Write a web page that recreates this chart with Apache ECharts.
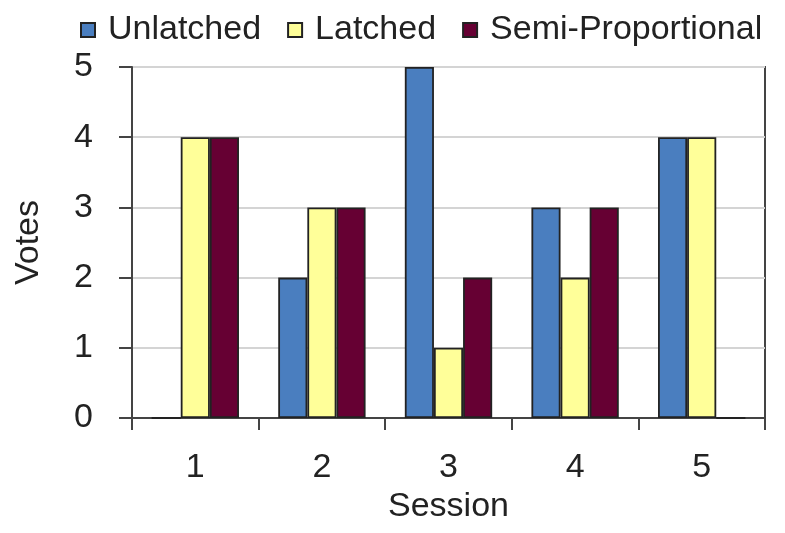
<!DOCTYPE html>
<html><head><meta charset="utf-8">
<script src="https://cdn.jsdelivr.net/npm/echarts@6/dist/echarts.min.js"></script>
<style>html,body{margin:0;padding:0;background:#fff}#c{width:785px;height:533px}</style>
</head><body><div id="c"></div>
<script>
const categories = ['1', '2', '3', '4', '5'];
const unlatched = [0, 2, 5, 3, 4];
const latched = [4, 3, 1, 2, 4];
const semiProportional = [4, 3, 2, 3, 0];
const seriesNames = ['Unlatched', 'Latched', 'Semi-Proportional'];
const colors = ['#4A7EBF', '#FFFF99', '#660033'];

const chart = echarts.init(document.getElementById('c'));
const font = 'Liberation Sans, Arial, sans-serif';
const barStyle = c => ({ color: c, borderColor: '#222', borderWidth: 1.8 });
chart.setOption({
  animation: false,
  textStyle: { fontFamily: font },
  legend: {
    top: 13, left: 80, width: 705, padding: 0,
    itemWidth: 14, itemHeight: 14, itemGap: 26,
    icon: 'rect',
    textStyle: { fontSize: 34, color: '#222', fontFamily: font, padding: [0, 0, 0, 8] },
    data: seriesNames
  },
  grid: { left: 132, right: 20, top: 67, bottom: 115, show: true, borderColor: '#444', borderWidth: 2 },
  xAxis: {
    type: 'category', data: categories,
    name: 'Session', nameLocation: 'middle', nameGap: 72,
    nameTextStyle: { fontSize: 34, color: '#222', fontFamily: font },
    axisLine: { lineStyle: { color: '#444', width: 2 } },
    axisTick: { show: true, length: 12, lineStyle: { color: '#444', width: 2 } },
    axisLabel: { fontSize: 34, color: '#222', margin: 33, fontFamily: font }
  },
  yAxis: {
    type: 'value', min: 0, max: 5, interval: 1,
    name: 'Votes', nameLocation: 'middle', nameGap: 86,
    nameTextStyle: { fontSize: 34, color: '#222', fontFamily: font },
    axisLine: { show: true, lineStyle: { color: '#444', width: 2 } },
    axisTick: { show: true, length: 13, lineStyle: { color: '#444', width: 2 } },
    axisLabel: { fontSize: 34, color: '#222', margin: 39, fontFamily: font },
    splitLine: { lineStyle: { color: '#d4d4d4', width: 2 } }
  },
  series: [
    { name: seriesNames[0], type: 'bar', data: unlatched, itemStyle: barStyle(colors[0]), barGap: '0%', barCategoryGap: '31%' },
    { name: seriesNames[1], type: 'bar', data: latched, itemStyle: barStyle(colors[1]), barGap: '0%', barCategoryGap: '31%' },
    { name: seriesNames[2], type: 'bar', data: semiProportional, itemStyle: barStyle(colors[2]), barGap: '0%', barCategoryGap: '31%' }
  ]
});
</script></body></html>
